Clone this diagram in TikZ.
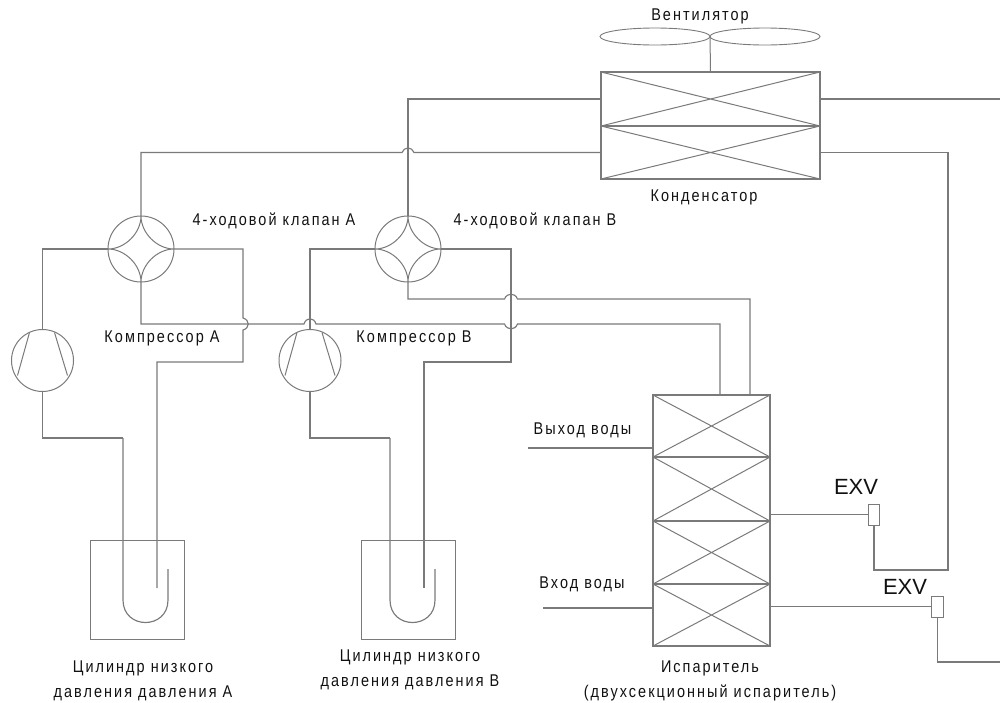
\documentclass[tikz,border=0pt]{standalone}
\usepackage{fontspec}
\setmainfont[FakeStretch=0.85,LetterSpace=12]{Liberation Sans}
\newfontfamily\exvfont{Liberation Sans}
\usetikzlibrary{shapes.geometric,calc}
\definecolor{pipe}{HTML}{7A7A7A}
\definecolor{txt}{HTML}{111111}
\tikzset{
  pipeline/.style={draw=pipe,line width=1.15pt,line join=miter},
  cell/.style={draw=pipe,line width=1.2pt,rectangle,inner sep=0,outer sep=0},
  valve/.style={draw=pipe,line width=1pt,circle,minimum size=66pt,inner sep=0,outer sep=0},
  comp/.style={draw=pipe,line width=1pt,circle,minimum size=62pt,inner sep=0,outer sep=0},
  tank/.style={draw=pipe,line width=1pt,rectangle,minimum width=94pt,minimum height=99pt,inner sep=0,outer sep=0},
  exvbox/.style={draw=pipe,line width=1pt,fill=white,rectangle,minimum width=11.5pt,minimum height=21pt,inner sep=0,outer sep=0},
  fan/.style={draw=pipe,line width=0.9pt,ellipse,minimum width=110pt,minimum height=17pt,inner sep=0,outer sep=0},
  label/.style={text=txt,font=\fontsize{17}{24.5}\selectfont,align=center,inner sep=0},
  exvlabel/.style={text=txt,font=\exvfont\fontsize{22}{24}\selectfont,inner sep=0}
}
\newcommand{\starin}[1]{%
  \draw[pipe,line width=1pt]
    (#1.north) .. controls +(0,17) and +(-17,0) .. (#1.east)
    .. controls +(-17,0) and +(0,-17) .. (#1.south)
    .. controls +(0,-17) and +(17,0) .. (#1.west)
    .. controls +(17,0) and +(0,17) .. cycle;
}
\newcommand{\blades}[1]{%
  \draw[pipe,line width=1pt]
    ($(#1.center)+(-13,-28)$) -- ($(#1.center)+(-25,15)$)
    ($(#1.center)+(12,-28)$) -- ($(#1.center)+(25,15)$);
}
\begin{document}
\begin{tikzpicture}[x=1pt,y=-1pt]
\useasboundingbox (0,0) rectangle (1000,702);
\node[cell,minimum width=219pt,minimum height=54pt] (condU) at (710.5,99) {};
\node[cell,minimum width=219pt,minimum height=53pt] (condL) at (710.5,152.5) {};
\draw[pipe,line width=1pt] (condU.north west) -- (condU.south east) (condU.north east) -- (condU.south west)
  (condL.north west) -- (condL.south east) (condL.north east) -- (condL.south west);
\node[fan] (fanL) at (655,36.5) {};
\node[fan] (fanR) at (765,36.5) {};
\draw[pipe,line width=1pt] (fanL.east) -- (condU.north);
\node[cell,minimum width=117pt,minimum height=62pt] (e1) at (711.5,426) {};
\node[cell,minimum width=117pt,minimum height=64pt] (e2) at (711.5,489) {};
\node[cell,minimum width=117pt,minimum height=63pt] (e3) at (711.5,552.5) {};
\node[cell,minimum width=117pt,minimum height=62pt] (e4) at (711.5,615) {};
\foreach \c in {e1,e2,e3,e4}
  \draw[pipe,line width=1pt] (\c.north west) -- (\c.south east) (\c.north east) -- (\c.south west);
\node[valve] (valveA) at (141,249) {};
\node[valve] (valveB) at (408,249) {};
\starin{valveA}\starin{valveB}
\node[comp] (compA) at (42.5,360.5) {};
\node[comp] (compB) at (310,360.5) {};
\blades{compA}\blades{compB}
\node[tank] (tankA) at (137,589.5) {};
\node[tank] (tankB) at (408,589.5) {};
\node[exvbox] (exv1) at (874,514.5) {};
\node[exvbox] (exv2) at (937.5,606.5) {};
\coordinate (endU) at (1000,99);
\coordinate (endL) at (1000,662);
\coordinate (wout) at (528,448);
\coordinate (win) at (543,608);
\draw[pipeline] (123,438) -- (123,600) .. controls (123,630) and (168,630) .. (168,600) -- (168,569);
\draw[pipeline] (390,438) -- (390,600) .. controls (390,630) and (435,630) .. (435,600) -- (435,569);
\draw[pipeline] (valveA.west) -| (compA.north);
\draw[pipeline] (compA.south) |- (123,438);
\draw[pipeline] (valveA.east) -| (243,318) .. controls (250,320) and (250,328) .. (243,330) -- (243,362) -- (157,362) -- (157,588);
\draw[pipeline] (valveA.north) |- (402,152.5) .. controls (404,146.5) and (412,146.5) .. (414,152.5) -- (condL.west);
\draw[pipeline] (valveA.south) |- (304,324) .. controls (306,317) and (314,317) .. (316,324)
  -- (504.5,324) .. controls (507,330.5) and (515,330.5) .. (517.5,324) -| (720,395);
\draw[pipeline] (valveB.west) -| (compB.north);
\draw[pipeline] (compB.south) |- (390,438);
\draw[pipeline] (valveB.east) -| (511,362) -- (424,362) -- (424,588);
\draw[pipeline] (valveB.north) |- (condU.west);
\draw[pipeline] (valveB.south) |- (504.5,299) .. controls (507,292.5) and (515,292.5) .. (517.5,299) -| (750,395);
\draw[pipeline] (condU.east) -- (endU);
\draw[pipeline] (condL.east) -| (948,570) -| (exv1.south);
\draw[pipeline] (770,514.5) -- (exv1.west);
\draw[pipeline] (770,606.5) -- (exv2.west);
\draw[pipeline] (exv2.south) |- (endL);
\draw[pipeline] (wout) -- (653,448);
\draw[pipeline] (win) -- (653,608);
\node[label] (tFan) at (700,16) {Вентилятор};
\node[label] (tCond) at (704,197) {Конденсатор};
\node[label] (tVA) at (274,221) {4-ходовой клапан А};
\node[label] (tVB) at (535,221) {4-ходовой клапан В};
\node[label] (tCA) at (162,338) {Компрессор А};
\node[label] (tCB) at (414,338) {Компрессор В};
\node[label] (tOut) at (582.5,430) {Выход воды};
\node[label] (tIn) at (582,584) {Вход воды};
\node[label] (tTA) at (143,681) {Цилиндр низкого\\давления давления А};
\node[label] (tTB) at (410,670) {Цилиндр низкого\\давления давления В};
\node[label] (tEv) at (710,681) {Испаритель\\(двухсекционный испаритель)};
\node[exvlabel] (tX1) at (856,487) {EXV};
\node[exvlabel] (tX2) at (905,587) {EXV};
\end{tikzpicture}
\end{document}
